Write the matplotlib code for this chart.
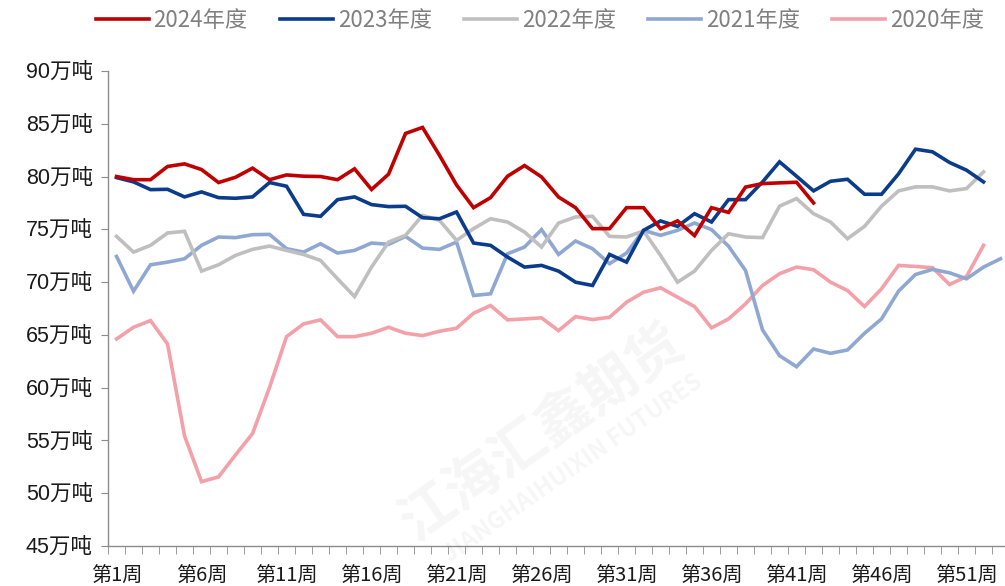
import matplotlib
matplotlib.use("Agg")
import matplotlib.pyplot as plt
import numpy as np

plt.rcParams['font.family'] = ['Noto Sans CJK SC', 'DejaVu Sans']

# 周度数据（万吨）
y2024 = [80.0, 79.7, 79.7, 80.95, 81.2, 80.66, 79.43, 79.93, 80.79, 79.7,
         80.15, 80.03, 80.0, 79.7, 80.73, 78.77, 80.22, 84.08, 84.65, 82.0,
         79.2, 77.05, 78.0, 80.03, 81.04, 79.96, 78.06, 77.05, 75.06, 75.06,
         77.05, 77.05, 75.06, 75.8, 74.4, 77.05, 76.6, 79.0, 79.33, 79.4,
         79.46, 77.5]
y2023 = [79.9, 79.49, 78.76, 78.79, 78.07, 78.54, 78.0, 77.94, 78.07, 79.43,
         79.08, 76.42, 76.23, 77.81, 78.07, 77.34, 77.15, 77.18, 76.1, 76.0,
         76.64, 73.7, 73.48, 72.37, 71.42, 71.58, 71.04, 69.99, 69.68, 72.62,
         71.89, 74.9, 75.79, 75.28, 76.48, 75.69, 77.81, 77.81, 79.49, 81.39,
         80.03, 78.64, 79.55, 79.74, 78.32, 78.32, 80.25, 82.59, 82.34, 81.33,
         80.6, 79.49]
y2022 = [74.33, 72.84, 73.48, 74.65, 74.81, 71.04, 71.64, 72.53, 73.1, 73.41,
         73.0, 72.62, 72.05, 70.31, 68.63, 71.42, 73.79, 74.43, 76.32, 75.85,
         73.95, 75.06, 76.0, 75.69, 74.74, 73.32, 75.59, 76.17, 76.23, 74.33,
         74.27, 74.84, 72.53, 69.99, 71.04, 73.0, 74.58, 74.27, 74.21, 77.19,
         77.91, 76.48, 75.69, 74.11, 75.28, 77.19, 78.64, 79.02, 79.02, 78.64,
         78.86, 80.44]
y2021 = [72.43, 69.14, 71.64, 71.89, 72.21, 73.48, 74.27, 74.21, 74.49, 74.52,
         73.16, 72.84, 73.63, 72.75, 73.0, 73.7, 73.57, 74.33, 73.22, 73.1,
         73.79, 68.73, 68.89, 72.68, 73.32, 74.97, 72.62, 73.89, 73.16, 71.74,
         72.75, 74.9, 74.43, 74.9, 75.59, 74.97, 73.4, 71.1, 65.47, 63.03,
         61.98, 63.66, 63.25, 63.57, 65.15, 66.51, 69.14, 70.72, 71.2, 70.88,
         70.31, 71.42, 72.21]
y2020 = [64.61, 65.72, 66.35, 64.14, 55.43, 51.1, 51.54, 53.63, 55.65, 60.02,
         64.83, 66.04, 66.42, 64.83, 64.83, 65.15, 65.72, 65.15, 64.93, 65.34,
         65.63, 67.05, 67.78, 66.42, 66.51, 66.61, 65.4, 66.73, 66.45, 66.67,
         68.09, 69.04, 69.46, 68.57, 67.68, 65.66, 66.51, 67.94, 69.68, 70.79,
         71.42, 71.17, 69.99, 69.2, 67.68, 69.36, 71.58, 71.48, 71.36, 69.77,
         70.53, 73.48]

n_weeks = 53
week_labels = ['第%d周' % w for w in range(1, n_weeks + 1, 5)]
yticks = list(range(45, 91, 5))

fig = plt.figure(figsize=(10.05, 5.86), dpi=100)
ax = fig.add_axes([0.1075, 0.0683, 0.8965, 0.8106])

# 水印
fig.text(0.54, 0.26, '江海汇鑫期货', fontsize=40, color='#000000', alpha=0.04,
         rotation=35, ha='center', va='center', fontweight='bold')
fig.text(0.57, 0.20, 'JIANGHAIHUIXIN FUTURES', fontsize=17, color='#000000', alpha=0.04,
         rotation=35, ha='center', va='center', fontweight='bold')

series = [
    (y2020, '2020年度', '#F4A0A8'),
    (y2021, '2021年度', '#8FA8D2'),
    (y2022, '2022年度', '#BFBFBF'),
    (y2023, '2023年度', '#0B3C8C'),
    (y2024, '2024年度', '#C00000'),
]
lines = {}
for vals, name, c in series:
    x = np.arange(1, len(vals) + 1)
    ln, = ax.plot(x, vals, color=c, lw=2.6, solid_joinstyle='miter')
    lines[name] = ln

ax.set_xlim(0.5, n_weeks + 0.5)
ax.set_ylim(45, 90)
ax.set_yticks(yticks)
ax.set_yticklabels(['%d万吨' % v for v in yticks],
                   family=['Liberation Sans', 'Noto Sans CJK SC'])
ax.set_xticks(range(1, n_weeks + 1, 5))
ax.set_xticklabels(week_labels)
ax.set_xticks(np.arange(0.5, n_weeks + 1), minor=True)

for s in ['top', 'right']:
    ax.spines[s].set_visible(False)
for s in ['left', 'bottom']:
    ax.spines[s].set_color('#8c8c8c')
    ax.spines[s].set_linewidth(1.0)

ax.tick_params(axis='y', length=5, color='#8c8c8c', labelsize=15.5, pad=6, labelcolor='#1a1a1a')
ax.tick_params(axis='x', which='major', length=0, labelsize=14.5, pad=14, labelcolor='#1a1a1a')
ax.tick_params(axis='x', which='minor', length=6, color='#8c8c8c')

order = ['2024年度', '2023年度', '2022年度', '2021年度', '2020年度']
leg = fig.legend([lines[k] for k in order], order, loc='center', bbox_to_anchor=(0.537, 0.965),
                 ncol=5, frameon=False, fontsize=16, handlelength=2.4, columnspacing=1.45,
                 handletextpad=0.2)
for t in leg.get_texts():
    t.set_color('#808080')

fig.savefig('out.png', dpi=100)
